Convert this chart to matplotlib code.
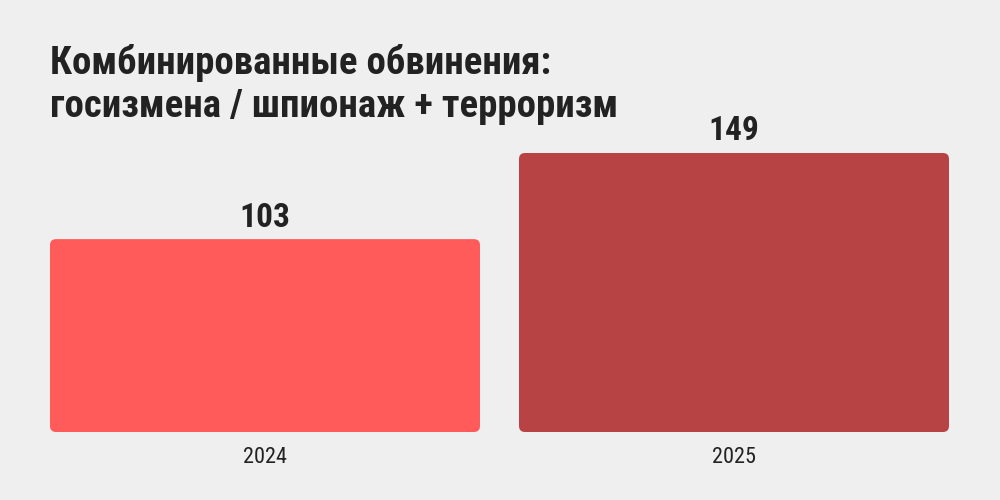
import matplotlib
matplotlib.use('Agg')
import matplotlib.pyplot as plt
from matplotlib.patches import FancyBboxPatch
from matplotlib import font_manager

# ---- DATA ----
years = ['2024', '2025']
counts = [103, 149]
colors = ['#FF5B5B', '#B84345']
title = 'Комбинированные обвинения:\nгосизмена / шпионаж + терроризм'

# ---- FONTS ----
# the original uses a condensed grotesque; take the narrowest one we have
fonts = font_manager.fontManager.ttflist
names = {f.name for f in fonts}
stretch = 'normal'
if 'Roboto Condensed' in names:
    family = 'Roboto Condensed'
elif any(f.name == 'Noto Sans' and f.stretch in ('condensed', 'semi-condensed') for f in fonts):
    family = 'Noto Sans'
    stretch = 'condensed'
elif 'Liberation Sans Narrow' in names:
    family = 'Liberation Sans Narrow'
else:
    family = 'Roboto'
plt.rcParams['font.family'] = [family, 'DejaVu Sans']
plt.rcParams['font.stretch'] = stretch

bg = '#EFEFEF'
ink = '#222222'

fig = plt.figure(figsize=(10, 5), dpi=100, facecolor=bg)
# axes: x from 50 to 949 px, y from 432 (baseline) to 153 (top of tallest bar)
ax = fig.add_axes([50 / 1000, 68 / 500, 899 / 1000, 279 / 500])
ax.set_facecolor(bg)

w = 430 / 469
ax.set_xlim(-w / 2, 1 + w / 2)
ax.set_ylim(0, max(counts))

# rounded corners, ~6px in both directions
px_x = 469.0
px_y = 279.0 / max(counts)
r = 6 / px_x
aspect = (6 / px_y) / r

for i, (v, c) in enumerate(zip(counts, colors)):
    p = FancyBboxPatch((i - w / 2, 0), w, v,
                       boxstyle=f'round,pad=0,rounding_size={r}',
                       mutation_aspect=aspect, facecolor=c, edgecolor='none',
                       clip_on=False)
    ax.add_patch(p)
    ax.annotate(str(v), (i, v), xytext=(0, 9), textcoords='offset points',
                ha='center', va='baseline', fontsize=24, fontweight='bold',
                color=ink)

ax.set_xticks(range(len(years)))
ax.set_xticklabels(years, fontsize=16, color=ink)
ax.tick_params(axis='x', length=0, pad=11)
ax.set_yticks([])
for s in ax.spines.values():
    s.set_visible(False)

fig.text(50 / 1000, 1 - 44 / 500, title, ha='left', va='top', fontsize=28,
         fontweight='bold', color=ink, linespacing=1.2)

fig.savefig('out.png', dpi=100, facecolor=bg)
